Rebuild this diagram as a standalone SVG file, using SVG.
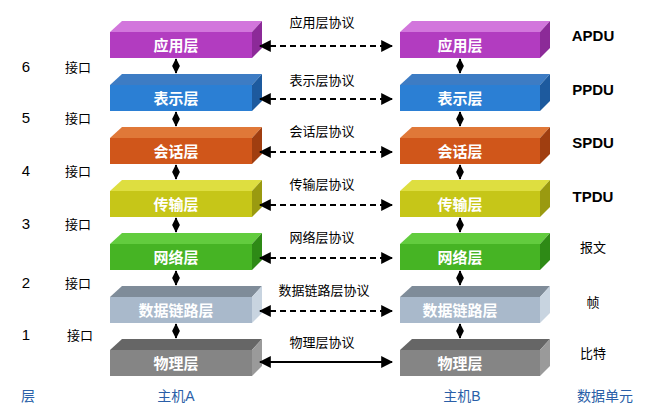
<svg xmlns="http://www.w3.org/2000/svg" width="658" height="417" viewBox="0 0 658 417">
<defs>
<marker id="ah" viewBox="0 0 10 10" refX="9" refY="5" markerWidth="6" markerHeight="6" orient="auto-start-reverse"><path d="M0,0L10,5L0,10z" fill="#000"/></marker>
<marker id="av" viewBox="0 0 10 10" refX="9" refY="5" markerWidth="4" markerHeight="4" orient="auto-start-reverse"><path d="M0,0L10,5L0,10z" fill="#000"/></marker>
<style>
.lbl{font-family:"Noto Sans CJK SC","Liberation Serif",serif;font-size:15px;fill:#fff;text-anchor:middle;font-weight:bold}
.t{font-family:"Noto Sans CJK SC",serif;font-size:13px;fill:#000;text-anchor:middle}
.n{font-family:"Liberation Sans",sans-serif;font-size:15px;fill:#000;text-anchor:middle}
.u{font-family:"Liberation Sans","Noto Sans CJK SC",sans-serif;font-size:15px;fill:#000;text-anchor:middle;font-weight:bold}
.b{font-family:"Liberation Sans","Noto Sans CJK SC",sans-serif;font-size:14px;fill:#2a5fa8;text-anchor:middle}
.d{stroke:#000;stroke-width:2;stroke-dasharray:6,4;fill:none}
.s{stroke:#000;stroke-width:2;fill:none}
.v{stroke:#000;stroke-width:2;fill:none;marker-start:url(#av);marker-end:url(#av)}
</style>
</defs>
<rect width="658" height="417" fill="#fff"/>
<g id="layers">
<g id="app">
<path d="M110,32L122,21H262L252,32z" fill="#d276dc"/><rect x="110" y="32" width="142" height="26" fill="#b23cc0"/><path d="M252,32L262,21V48L252,58z" fill="#8c2a98"/>
<path d="M400,32L412,21H550L540,32z" fill="#d276dc"/><rect x="400" y="32" width="140" height="26" fill="#b23cc0"/><path d="M540,32L550,21V48L540,58z" fill="#8c2a98"/>
<text class="lbl" x="176" y="51">应用层</text><text class="lbl" x="460" y="51">应用层</text></g>
<g id="pres">
<path d="M110,85L122,74H262L252,85z" fill="#3d7cc4"/><rect x="110" y="85" width="142" height="26" fill="#2b7fd4"/><path d="M252,85L262,74V101L252,111z" fill="#1d5a9e"/>
<path d="M400,85L412,74H550L540,85z" fill="#3d7cc4"/><rect x="400" y="85" width="140" height="26" fill="#2b7fd4"/><path d="M540,85L550,74V101L540,111z" fill="#1d5a9e"/>
<text class="lbl" x="176" y="104">表示层</text><text class="lbl" x="460" y="104">表示层</text></g>
<g id="sess">
<path d="M110,138L122,127H262L252,138z" fill="#e07838"/><rect x="110" y="138" width="142" height="26" fill="#d0561a"/><path d="M252,138L262,127V154L252,164z" fill="#a03e10"/>
<path d="M400,138L412,127H550L540,138z" fill="#e07838"/><rect x="400" y="138" width="140" height="26" fill="#d0561a"/><path d="M540,138L550,127V154L540,164z" fill="#a03e10"/>
<text class="lbl" x="176" y="157">会话层</text><text class="lbl" x="460" y="157">会话层</text></g>
<g id="trans">
<path d="M110,191L122,180H262L252,191z" fill="#dede40"/><rect x="110" y="191" width="142" height="26" fill="#c6c618"/><path d="M252,191L262,180V207L252,217z" fill="#9a9a10"/>
<path d="M400,191L412,180H550L540,191z" fill="#dede40"/><rect x="400" y="191" width="140" height="26" fill="#c6c618"/><path d="M540,191L550,180V207L540,217z" fill="#9a9a10"/>
<text class="lbl" x="176" y="210">传输层</text><text class="lbl" x="460" y="210">传输层</text></g>
<g id="net">
<path d="M110,244L122,233H262L252,244z" fill="#62cc3e"/><rect x="110" y="244" width="142" height="26" fill="#46b424"/><path d="M252,244L262,233V260L252,270z" fill="#2e8a16"/>
<path d="M400,244L412,233H550L540,244z" fill="#62cc3e"/><rect x="400" y="244" width="140" height="26" fill="#46b424"/><path d="M540,244L550,233V260L540,270z" fill="#2e8a16"/>
<text class="lbl" x="176" y="263">网络层</text><text class="lbl" x="460" y="263">网络层</text></g>
<g id="dl">
<path d="M110,297L122,286H262L252,297z" fill="#7f8c99"/><rect x="110" y="297" width="142" height="26" fill="#a9b9cb"/><path d="M252,297L262,286V313L252,323z" fill="#c8d4e0"/>
<path d="M400,297L412,286H550L540,297z" fill="#7f8c99"/><rect x="400" y="297" width="140" height="26" fill="#a9b9cb"/><path d="M540,297L550,286V313L540,323z" fill="#c8d4e0"/>
<text class="lbl" x="176" y="316">数据链路层</text><text class="lbl" x="460" y="316">数据链路层</text></g>
<g id="phy">
<path d="M110,350L122,339H262L252,350z" fill="#666"/><rect x="110" y="350" width="142" height="26" fill="#858585"/><path d="M252,350L262,339V366L252,376z" fill="#9a9a9a"/>
<path d="M400,350L412,339H550L540,350z" fill="#666"/><rect x="400" y="350" width="140" height="26" fill="#858585"/><path d="M540,350L550,339V366L540,376z" fill="#9a9a9a"/>
<text class="lbl" x="176" y="369">物理层</text><text class="lbl" x="460" y="369">物理层</text></g>
</g>
<g id="connectors">
<path class="d" d="M260,46H392" marker-start="url(#ah)" marker-end="url(#ah)"/>
<path class="d" d="M260,99H392" marker-start="url(#ah)" marker-end="url(#ah)"/>
<path class="d" d="M260,152H392" marker-start="url(#ah)" marker-end="url(#ah)"/>
<path class="d" d="M260,205H392" marker-start="url(#ah)" marker-end="url(#ah)"/>
<path class="d" d="M260,258H392" marker-start="url(#ah)" marker-end="url(#ah)"/>
<path class="d" d="M260,311H392" marker-start="url(#ah)" marker-end="url(#ah)"/>
<path class="s" d="M260,362H392" marker-start="url(#ah)" marker-end="url(#ah)"/>
<path class="v" d="M176,59V73"/><path class="v" d="M176,112V126"/><path class="v" d="M176,165V179"/>
<path class="v" d="M176,218V232"/><path class="v" d="M176,271V285"/><path class="v" d="M176,324V338"/>
<path class="v" d="M460,59V73"/><path class="v" d="M460,112V126"/><path class="v" d="M460,165V179"/>
<path class="v" d="M460,218V232"/><path class="v" d="M460,271V285"/><path class="v" d="M460,324V338"/>
</g>
<g id="labels">
<text class="t" x="322" y="27">应用层协议</text>
<text class="t" x="322" y="85">表示层协议</text>
<text class="t" x="322" y="136">会话层协议</text>
<text class="t" x="322" y="189">传输层协议</text>
<text class="t" x="322" y="242">网络层协议</text>
<text class="t" x="324" y="295">数据链路层协议</text>
<text class="t" x="322" y="347">物理层协议</text>
<text class="n" x="26" y="72">6</text><text class="t" x="78" y="72">接口</text>
<text class="n" x="26" y="123">5</text><text class="t" x="78" y="123">接口</text>
<text class="n" x="26" y="176">4</text><text class="t" x="78" y="176">接口</text>
<text class="n" x="26" y="229">3</text><text class="t" x="78" y="229">接口</text>
<text class="n" x="26" y="288">2</text><text class="t" x="78" y="288">接口</text>
<text class="n" x="26" y="340">1</text><text class="t" x="80" y="340">接口</text>
<text class="u" x="593" y="41">APDU</text>
<text class="u" x="593" y="95">PPDU</text>
<text class="u" x="593" y="148">SPDU</text>
<text class="u" x="593" y="202">TPDU</text>
<text class="t" x="593" y="252">报文</text>
<text class="t" x="593" y="307">帧</text>
<text class="t" x="593" y="358">比特</text>
<text class="b" x="28" y="401">层</text>
<text class="b" x="176" y="401">主机A</text>
<text class="b" x="462" y="401">主机B</text>
<text class="b" x="605" y="401">数据单元</text>
</g>
</svg>
